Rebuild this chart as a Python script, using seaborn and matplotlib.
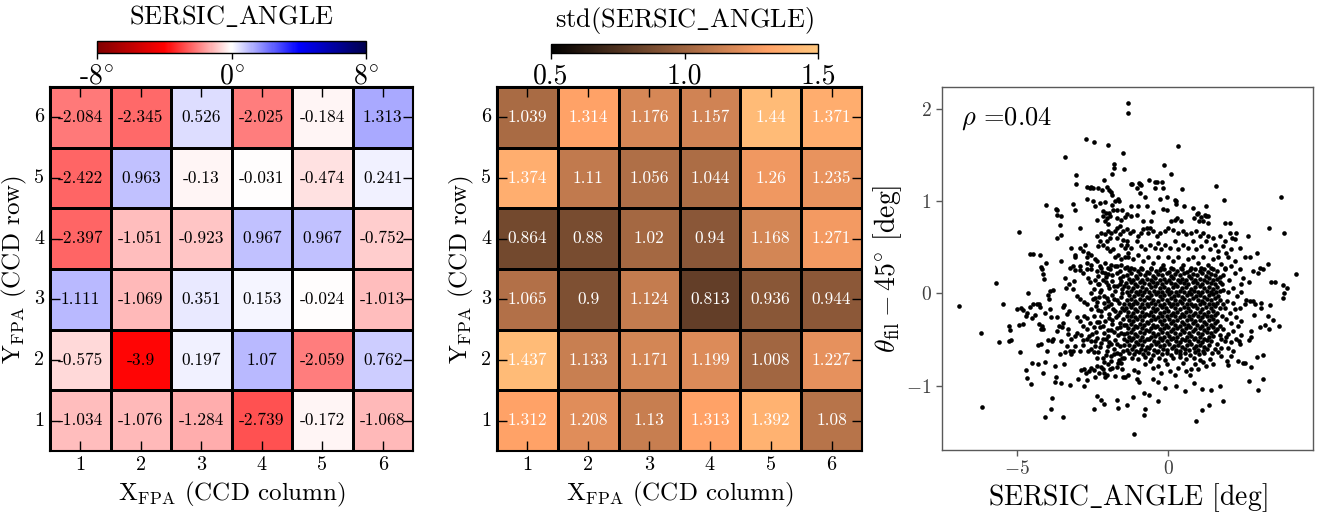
import matplotlib
matplotlib.use("Agg")
import matplotlib.pyplot as plt
from matplotlib.ticker import MultipleLocator
import pandas as pd
import seaborn as sns

# ---------------------------------------------------------------- data
ccd_cols = [1, 2, 3, 4, 5, 6]
ccd_rows = [1, 2, 3, 4, 5, 6]

# mean SERSIC_ANGLE per CCD (deg), rows listed from CCD row 1 up to row 6
mean_angle = [
    [-1.034, -1.076, -1.284, -2.739, -0.172, -1.068],
    [-0.575, -3.9, 0.197, 1.07, -2.059, 0.762],
    [1.111, -1.069, 0.351, 0.153, -0.024, -1.013],
    [-2.397, -1.051, -0.923, 0.967, 0.967, -0.752],
    [-2.422, 0.963, -0.13, -0.031, -0.474, 0.241],
    [-2.084, -2.345, 0.526, -2.025, -0.184, 1.313],
]

# scatter of SERSIC_ANGLE per CCD (deg)
std_angle = [
    [1.312, 1.208, 1.13, 1.313, 1.392, 1.08],
    [1.437, 1.133, 1.171, 1.199, 1.008, 1.227],
    [1.065, 0.9, 1.124, 0.813, 0.936, 0.944],
    [0.864, 0.88, 1.02, 0.94, 1.168, 1.271],
    [1.374, 1.11, 1.056, 1.044, 1.26, 1.235],
    [1.039, 1.314, 1.176, 1.157, 1.44, 1.371],
]

mean_ticks = [-8, 0, 8]
mean_ticklabels = ["-8$^{\\circ}$", "0$^{\\circ}$", "8$^{\\circ}$"]
std_ticks = [0.5, 1.0, 1.5]
std_ticklabels = ["0.5", "1.0", "1.5"]
rho_value = 0.04

# (SERSIC_ANGLE, theta_fil - 45) pairs, in degrees
upper_pts = [
    (-1.32, 2.06), (-1.32, 1.96), (-2.71, 1.67), (-2.45, 1.64), (-1.98, 1.61), (0.33, 1.60),
    (-3.41, 1.48), (-1.48, 1.52), (-1.78, 1.40), (-1.78, 1.36), (-1.46, 1.35), (-0.14, 1.39),
    (0.09, 1.30), (-3.05, 1.28), (-3.05, 1.19), (-1.85, 1.29), (-2.11, 1.23), (-0.63, 1.23),
    (-1.19, 1.19), (-0.93, 1.19), (-1.04, 1.14), (-0.35, 1.21), (-0.16, 1.14), (0.45, 1.13),
    (1.58, 1.16), (-2.69, 1.15), (-2.55, 1.15), (-2.31, 1.14), (-2.03, 1.15), (-1.95, 1.12),
    (-0.77, 1.05), (-0.03, 1.05), (3.74, 1.05), (1.84, 1.01), (-4.04, 0.96), (-3.13, 0.97),
    (-2.67, 1.02), (-2.47, 1.00), (-2.25, 0.98), (-1.76, 1.00), (-1.62, 1.00), (-0.99, 0.95),
    (-0.71, 0.95), (0.25, 1.00), (0.27, 0.97), (0.52, 0.95), (0.82, 0.93), (1.26, 0.95),
    (-3.70, 0.92), (-3.68, 0.90), (-3.52, 0.84), (-0.49, 0.88), (0.99, 0.87), (1.21, 0.85),
    (1.32, 0.84), (1.32, 0.76), (1.87, 0.76), (2.03, 0.76), (3.35, 0.71), (3.82, 0.66),
    (-3.57, 0.74), (-3.52, 0.63), (-3.68, 0.60), (-4.92, 0.67), (-2.91, 0.71), (2.25, 0.66),
    (2.64, 0.62), (2.36, 0.49), (2.53, 0.40), (2.69, 0.40), (2.93, 0.44), (3.30, 0.32),
    (-2.58, 1.14), (-2.49, 1.14), (-2.18, 1.12), (-1.87, 1.10), (-1.84, 1.07), (-3.08, 0.91),
    (-3.66, 0.85), (-2.42, 0.95), (-2.07, 0.99), (-1.65, 1.02), (-1.84, 0.96), (-2.16, 0.89),
    (-2.05, 0.87), (-1.95, 0.87), (-1.81, 0.90), (-1.70, 0.91), (-1.51, 0.91), (-2.36, 0.80),
    (-2.14, 0.84), (-2.03, 0.82), (-1.92, 0.84), (-2.09, 0.78), (-1.98, 0.75), (-1.70, 0.82),
    (-1.54, 0.80), (-1.43, 0.83), (-1.70, 0.71), (-1.59, 0.73), (-1.48, 0.68), (-1.37, 0.70),
    (-4.56, 0.43), (-4.45, 0.43), (-4.23, 0.42), (-4.04, 0.33), (-4.20, 0.29), (-3.52, 0.35),
    (-3.19, 0.49), (-3.08, 0.42), (-3.08, 0.39), (-2.91, 0.49), (-2.75, 0.53), (-2.80, 0.46),
    (-2.64, 0.44), (-2.69, 0.39), (-2.53, 0.42), (-2.42, 0.37), (-2.31, 0.51), (-2.14, 0.53),
    (-2.03, 0.57), (-1.92, 0.60), (-2.20, 0.66), (-2.09, 0.64), (-1.98, 0.68), (-1.87, 0.66),
    (-1.76, 0.68), (-2.36, 0.62), (-2.25, 0.57), (-2.03, 0.49), (-1.92, 0.46), (-1.81, 0.48),
    (-1.59, 0.64), (-1.48, 0.58), (-1.37, 0.57), (-1.54, 0.53), (-1.43, 0.49), (-1.32, 0.44),
    (-1.70, 0.60), (-1.65, 0.42), (-1.76, 0.39), (-1.54, 0.37), (-1.43, 0.40), (-2.91, 0.30),
    (-2.69, 0.33), (-2.53, 0.31), (-2.36, 0.35), (-2.25, 0.30), (-2.09, 0.33), (-1.98, 0.28),
    (-1.87, 0.31), (-1.70, 0.30), (-1.54, 0.31), (-1.37, 0.29), (-3.24, 0.28), (-3.13, 0.30),
    (-1.21, 1.19), (-0.97, 1.20), (-0.90, 1.18), (-0.44, 1.21), (-0.42, 1.14), (-0.20, 1.21),
    (-0.93, 1.09), (-0.27, 1.02), (0.24, 1.01), (-1.21, 0.95), (-0.16, 0.92), (-0.02, 0.90),
    (-1.37, 0.86), (-1.21, 0.84), (-1.04, 0.85), (-0.82, 0.78), (-0.55, 0.79), (-0.82, 0.70),
    (-0.60, 0.71), (0.11, 0.78), (0.24, 0.80), (0.31, 0.82), (0.44, 0.79), (0.86, 0.82),
    (0.97, 0.86), (1.01, 0.78), (1.08, 0.83), (1.15, 0.78), (1.26, 0.84), (-1.26, 0.66),
    (-1.15, 0.68), (-0.99, 0.62), (-0.88, 0.65), (-0.71, 0.71), (-0.66, 0.66), (-0.49, 0.68),
    (-0.38, 0.62), (-0.27, 0.66), (-0.11, 0.68), (0.00, 0.71), (0.16, 0.69), (0.33, 0.66),
    (0.49, 0.68), (0.60, 0.64), (0.77, 0.66), (0.93, 0.68), (1.04, 0.62), (1.15, 0.66),
    (1.32, 0.62), (1.48, 0.60), (1.70, 0.62), (1.87, 0.57), (2.03, 0.65), (2.11, 0.60),
    (2.20, 0.59), (-1.37, 0.53), (-1.21, 0.49), (-1.04, 0.57), (-0.88, 0.51), (-0.77, 0.48),
    (-0.60, 0.53), (-0.44, 0.49), (-0.33, 0.55), (-0.22, 0.48), (-0.11, 0.53), (0.05, 0.49),
    (0.22, 0.57), (0.33, 0.48), (0.49, 0.53), (0.66, 0.49), (0.82, 0.57), (0.93, 0.48),
    (1.10, 0.51), (1.26, 0.57), (1.37, 0.48), (1.54, 0.53), (1.65, 0.46), (1.81, 0.51),
    (1.92, 0.44), (2.09, 0.48), (-1.32, 0.40), (-1.15, 0.37), (-0.99, 0.42), (-0.82, 0.35),
    (-0.66, 0.40), (-0.49, 0.33), (-0.33, 0.39), (-0.16, 0.31), (0.00, 0.40), (0.16, 0.35),
    (0.33, 0.39), (0.49, 0.31), (0.66, 0.37), (0.82, 0.40), (0.99, 0.33), (1.15, 0.39),
    (1.32, 0.31), (1.48, 0.37), (1.65, 0.40), (1.76, 0.32), (1.98, 0.39), (2.20, 0.35),
    (-1.21, 0.28), (-0.88, 0.28), (-0.55, 0.28), (-0.22, 0.28), (0.11, 0.28), (0.44, 0.28),
    (0.77, 0.28), (1.10, 0.28), (1.43, 0.28), (1.87, 0.28),
]

lower_left_pts = [
    (-5.68, 0.11), (-6.91, -0.14), (-5.44, -0.11), (-4.63, 0.00), (-6.19, -0.43), (-5.60, -0.53),
    (-5.25, -0.52), (-5.19, -0.51), (-5.23, -0.40), (-5.25, -0.35), (-4.89, -0.64), (-5.00, -0.17),
    (-4.86, -0.16), (-4.80, -0.18), (-4.93, -0.34), (-4.78, -0.33), (-4.69, -0.25), (-4.65, -0.21),
    (-4.56, -0.15), (-4.47, -0.11), (-4.34, -0.11), (-4.25, -0.11), (-4.23, -0.15), (-4.51, -0.27),
    (-4.40, -0.23), (-4.18, 0.27), (-4.10, 0.16), (-4.12, 0.21), (-3.93, -0.06), (-3.96, -0.02),
    (-3.90, 0.03), (-3.79, 0.04), (-4.18, -0.35), (-4.21, -0.39), (-4.25, -0.33), (-4.12, -0.39),
    (-3.90, -0.17), (-3.87, -0.26), (-4.07, -0.21), (-4.29, -0.56), (-4.21, -0.55), (-3.96, -0.51),
    (-3.85, -0.52), (-3.79, -0.50), (-4.01, -0.62), (-4.49, -0.76), (-4.69, -0.83), (-4.65, -0.92),
    (-4.54, -0.98), (-4.29, -0.77), (-4.12, -0.86), (-4.05, -0.74), (-3.85, -1.14), (-3.88, -1.25),
    (-4.07, -1.34), (-6.14, -1.23), (-3.46, -1.34), (-3.74, -0.79), (-3.73, -0.96), (-3.70, -0.91),
    (-3.54, -0.97), (-3.44, -0.77), (-3.24, -0.99), (-3.66, -0.41), (-3.59, -0.35), (-3.55, -0.52),
    (-3.49, -0.37), (-3.57, -0.66), (-3.40, -0.64), (-3.35, -0.57), (-3.24, -0.63), (-3.19, -0.66),
    (-3.13, -0.62), (-3.30, -0.44), (-3.21, -0.49), (-3.08, -0.46), (-3.48, -0.15), (-3.44, -0.13),
    (-3.35, -0.22), (-3.26, -0.19), (-3.41, 0.17), (-3.37, 0.06), (-3.26, 0.10), (-3.15, 0.05),
    (-3.11, 0.13), (-3.68, -0.26), (-3.46, -0.32), (-3.30, -0.39), (-3.02, -0.03), (-2.91, -0.06),
    (-2.78, -0.09), (-2.69, -0.12), (-3.08, 0.25), (-2.91, 0.25), (-2.80, 0.22), (-2.64, 0.17),
    (-2.69, 0.26), (-3.02, -0.26), (-2.91, -0.30), (-2.78, -0.25), (-2.69, -0.27), (-2.80, -0.35),
    (-2.69, -0.39), (-3.02, -0.43), (-2.89, -0.45), (-2.80, -0.51), (-2.69, -0.50), (-2.62, -0.46),
    (-2.53, -0.52), (-3.08, -0.57), (-2.91, -0.62), (-2.80, -0.56), (-2.64, -0.62), (-2.53, -0.60),
    (-2.42, -0.57), (-2.45, -0.64), (-2.88, -0.83), (-2.77, -0.82), (-2.71, -0.86), (-2.60, -0.84),
    (-2.53, -0.81), (-2.45, -0.83), (-2.36, -0.79), (-2.27, -0.86), (-2.16, -0.82), (-2.11, -0.86),
    (-2.97, -0.93), (-2.69, -0.94), (-2.42, -0.91), (-2.09, -0.91), (-2.78, -1.00), (-2.36, -1.11),
    (-2.23, -1.16), (-2.10, -1.20), (-1.70, -1.16), (-1.65, -1.24), (-2.44, -1.25),
    (-2.53, 0.27), (-2.36, 0.24), (-2.20, 0.28), (-2.09, 0.22), (-1.92, 0.26), (-1.76, 0.30),
    (-1.59, 0.24), (-1.43, 0.28), (-2.58, 0.12), (-2.42, 0.15), (-2.27, 0.10), (-2.14, 0.14),
    (-1.98, 0.09), (-1.84, 0.13), (-1.70, 0.08), (-1.54, 0.13), (-2.56, 0.00), (-2.42, -0.05),
    (-2.25, 0.01), (-2.12, -0.03), (-1.98, -0.08), (-1.84, -0.02), (-1.68, -0.07), (-1.51, 0.00),
    (-2.53, -0.17), (-2.38, -0.14), (-2.23, -0.19), (-2.09, -0.16), (-1.95, -0.22), (-1.81, -0.17),
    (-1.65, -0.23), (-1.51, -0.16), (-2.58, -0.32), (-2.45, -0.37), (-2.27, -0.31), (-2.14, -0.35),
    (-1.98, -0.40), (-1.84, -0.33), (-1.70, -0.38), (-1.54, -0.43), (-2.36, -0.48), (-2.20, -0.54),
    (-2.05, -0.50), (-1.90, -0.55), (-1.76, -0.51), (-1.59, -0.57), (-2.31, -0.64), (-2.16, -0.70),
    (-2.01, -0.63), (-1.87, -0.68), (-1.70, -0.65), (-1.51, -0.70), (-1.98, -0.77), (-1.84, -0.81),
    (-1.65, -0.76), (-1.51, -0.82), (-2.03, -0.88), (-1.76, -0.90), (-1.48, -0.91),
    (-2.30, 0.19), (-2.05, 0.18), (-1.85, 0.20), (-1.60, 0.17), (-2.45, 0.05), (-2.20, 0.04),
    (-1.95, 0.06), (-1.75, 0.03), (-1.52, 0.05), (-2.35, -0.09), (-2.10, -0.10), (-1.88, -0.12),
    (-1.62, -0.10), (-1.47, -0.12), (-2.45, -0.25), (-2.20, -0.24), (-1.95, -0.27), (-1.72, -0.26),
    (-1.48, -0.28), (-2.38, -0.42), (-2.12, -0.43), (-1.90, -0.40), (-1.65, -0.45), (-1.47, -0.44),
    (-2.25, -0.58), (-2.00, -0.57), (-1.78, -0.60), (-1.50, -0.62), (-2.10, -0.74), (-1.88, -0.73),
    (-1.62, -0.72),
    (-2.18, 0.23), (-1.98, 0.21), (-1.68, 0.22), (-1.50, 0.19), (-2.32, 0.10), (-2.05, 0.12),
    (-1.80, 0.08), (-1.60, 0.10), (-1.45, 0.08), (-2.48, -0.06), (-2.28, -0.04), (-2.02, -0.05),
    (-1.78, -0.06), (-1.55, -0.04), (-2.30, -0.18), (-2.00, -0.14), (-1.75, -0.19), (-1.58, -0.20),
    (-1.44, -0.18), (-2.35, -0.31), (-2.08, -0.30), (-1.85, -0.29), (-1.60, -0.32), (-1.46, -0.34),
    (-2.50, -0.44), (-2.25, -0.36), (-2.00, -0.46), (-1.78, -0.42), (-1.58, -0.37), (-1.45, -0.49),
    (-2.40, -0.52), (-2.15, -0.50), (-1.95, -0.53), (-1.68, -0.55), (-1.45, -0.56), (-2.35, -0.70),
    (-2.05, -0.67), (-1.80, -0.66), (-1.58, -0.66), (-1.44, -0.70), (-2.20, -0.80), (-1.92, -0.82),
    (-1.70, -0.80), (-1.55, -0.76),
]

lower_right_pts = [
    (4.23, 0.21), (3.41, 0.12), (3.52, 0.12), (3.79, 0.09), (3.92, 0.06), (3.82, 0.00),
    (3.80, -0.05), (3.68, -0.35), (3.46, -0.29), (3.33, -0.39), (3.19, -0.34), (3.30, -0.25),
    (3.37, -0.13), (3.08, -0.16), (3.08, -0.10), (2.86, -0.12), (2.84, -0.23), (3.02, -0.37),
    (2.73, -0.41), (2.73, -0.47), (2.66, -0.51), (2.42, -0.45), (2.36, -0.55), (2.33, -0.52),
    (3.12, -0.67), (2.95, -0.69), (2.73, -0.80), (2.53, -0.75), (2.47, -0.76), (2.31, -0.73),
    (3.13, -0.93), (2.67, -0.95), (2.98, -1.05), (1.96, -0.73), (1.98, -0.78), (1.73, -1.00),
    (1.41, -1.05), (1.12, -1.04), (1.81, -1.17), (1.36, -1.21), (1.11, -1.27), (0.92, -1.38),
    (0.57, -1.06), (0.25, -1.01), (-0.09, -1.03), (-0.33, -1.17), (-0.75, -1.25), (-0.81, -1.32),
    (-1.14, -1.52), (-1.36, -1.21), (-0.80, -1.08), (-0.64, -1.10), (-0.97, -0.96), (-1.15, -1.12),
    (-1.43, -0.91), (-1.01, -0.93), (-0.49, -0.93), (-0.33, -0.96), (0.86, -0.97),
    (-1.32, -0.88), (-1.12, -0.83), (-0.99, -0.85), (-0.77, -0.77), (-0.60, -0.73), (-0.49, -0.81),
    (-0.33, -0.79), (-0.22, -0.86), (-0.05, -0.77), (0.05, -0.84), (0.22, -0.88), (0.33, -0.81),
    (0.49, -0.75), (0.60, -0.84), (0.71, -0.88), (0.77, -0.82), (0.88, -0.77), (0.99, -0.82),
    (1.15, -0.74), (1.26, -0.79), (1.37, -0.71), (1.48, -0.77), (1.76, -0.68), (2.09, -0.68),
    (1.87, 0.26), (2.07, 0.30), (2.20, 0.22), (2.36, 0.26), (2.47, 0.17), (2.42, 0.10),
    (2.66, 0.12), (2.80, 0.24), (2.97, 0.22), (3.02, 0.28), (3.13, 0.27),
    (1.81, 0.04), (1.98, 0.01), (2.14, 0.06), (2.29, -0.03), (2.42, 0.02), (2.58, -0.07),
    (2.69, -0.08), (2.80, -0.08), (2.53, -0.12), (2.36, -0.16), (1.87, -0.16), (2.03, -0.21),
    (2.20, -0.17), (1.92, -0.28), (2.09, -0.32), (2.25, -0.26), (2.40, -0.30), (1.81, -0.39),
    (1.98, -0.44), (2.14, -0.41), (2.31, -0.35), (1.87, -0.52), (2.07, -0.53), (2.25, -0.50),
    (1.98, -0.59), (2.14, -0.63), (1.76, -0.59), (1.65, -0.64),
    (1.80, 0.20), (2.00, 0.15), (1.78, 0.10), (1.95, -0.08), (2.15, -0.10), (1.80, -0.12),
    (1.78, -0.25), (1.72, -0.35), (1.90, -0.47), (1.75, -0.50), (1.70, -0.45), (1.55, -0.60),
    (1.45, -0.65), (1.60, -0.55),
]

core_pts = [
    (-1.28, 0.25), (-1.12, 0.27), (-0.98, 0.24), (-0.85, 0.26), (-0.70, 0.23), (-0.55, 0.27),
    (-0.41, 0.24), (-0.27, 0.25), (-0.12, 0.27), (0.03, 0.23), (0.17, 0.26), (0.31, 0.24),
    (0.46, 0.27), (0.61, 0.23), (0.74, 0.25), (0.90, 0.27), (1.04, 0.24), (1.19, 0.26),
    (1.33, 0.23), (1.49, 0.27), (1.62, 0.24),
    (-1.36, 0.20), (-1.22, 0.22), (-1.07, 0.19), (-0.93, 0.21), (-0.77, 0.20), (-0.63, 0.22),
    (-0.49, 0.19), (-0.34, 0.21), (-0.19, 0.20), (-0.05, 0.22), (0.10, 0.19), (0.24, 0.21),
    (0.39, 0.20), (0.53, 0.22), (0.68, 0.19), (0.83, 0.21), (0.97, 0.20), (1.12, 0.22),
    (1.26, 0.19), (1.41, 0.21), (1.56, 0.20), (1.70, 0.18),
    (-1.30, 0.16), (-1.15, 0.15), (-1.01, 0.17), (-0.85, 0.15), (-0.71, 0.16), (-0.56, 0.14),
    (-0.42, 0.17), (-0.27, 0.15), (-0.12, 0.16), (0.02, 0.14), (0.17, 0.17), (0.32, 0.15),
    (0.46, 0.16), (0.60, 0.14), (0.76, 0.17), (0.90, 0.15), (1.05, 0.16), (1.19, 0.14),
    (1.34, 0.17), (1.48, 0.15), (1.63, 0.16),
    (-1.38, 0.11), (-1.24, 0.12), (-1.08, 0.10), (-0.94, 0.12), (-0.79, 0.11), (-0.64, 0.10),
    (-0.49, 0.12), (-0.35, 0.11), (-0.20, 0.10), (-0.06, 0.12), (0.09, 0.11), (0.24, 0.10),
    (0.39, 0.12), (0.53, 0.11), (0.67, 0.10), (0.82, 0.12), (0.97, 0.11), (1.12, 0.10),
    (1.27, 0.12), (1.41, 0.11), (1.56, 0.10), (1.71, 0.12),
    (-1.31, 0.07), (-1.16, 0.06), (-1.02, 0.08), (-0.87, 0.07), (-0.72, 0.05), (-0.57, 0.07),
    (-0.42, 0.08), (-0.28, 0.06), (-0.13, 0.07), (0.01, 0.05), (0.16, 0.07), (0.31, 0.08),
    (0.45, 0.06), (0.60, 0.07), (0.75, 0.05), (0.89, 0.07), (1.04, 0.08), (1.19, 0.06),
    (1.34, 0.07), (1.48, 0.05), (1.63, 0.07),
    (-1.36, 0.02), (-1.21, 0.03), (-1.07, 0.01), (-0.92, 0.03), (-0.78, 0.02), (-0.63, 0.01),
    (-0.48, 0.03), (-0.33, 0.02), (-0.19, 0.01), (-0.04, 0.03), (0.11, 0.02), (0.25, 0.01),
    (0.40, 0.03), (0.54, 0.02), (0.69, 0.01), (0.84, 0.03), (0.98, 0.02), (1.13, 0.01),
    (1.28, 0.03), (1.42, 0.02), (1.57, 0.01), (1.72, 0.03),
    (-1.29, -0.02), (-1.14, -0.03), (-1.00, -0.01), (-0.85, -0.02), (-0.70, -0.04), (-0.55, -0.02),
    (-0.41, -0.01), (-0.26, -0.03), (-0.12, -0.02), (0.03, -0.01), (0.18, -0.03), (0.32, -0.02),
    (0.47, -0.04), (0.62, -0.02), (0.76, -0.01), (0.91, -0.03), (1.05, -0.02), (1.20, -0.04),
    (1.35, -0.02), (1.50, -0.01), (1.64, -0.03),
    (-1.37, -0.07), (-1.22, -0.06), (-1.08, -0.08), (-0.93, -0.06), (-0.78, -0.07), (-0.64, -0.05),
    (-0.49, -0.07), (-0.34, -0.08), (-0.20, -0.06), (-0.05, -0.07), (0.10, -0.05), (0.24, -0.07),
    (0.39, -0.08), (0.54, -0.06), (0.68, -0.07), (0.83, -0.05), (0.98, -0.07), (1.12, -0.08),
    (1.27, -0.06), (1.42, -0.07), (1.56, -0.05), (1.71, -0.07),
    (-1.30, -0.11), (-1.15, -0.12), (-1.01, -0.10), (-0.86, -0.11), (-0.71, -0.12), (-0.57, -0.10),
    (-0.42, -0.11), (-0.27, -0.13), (-0.13, -0.11), (0.02, -0.10), (0.17, -0.12), (0.31, -0.11),
    (0.46, -0.10), (0.61, -0.12), (0.75, -0.11), (0.90, -0.13), (1.05, -0.11), (1.19, -0.10),
    (1.34, -0.12), (1.49, -0.11), (1.63, -0.10),
    (-1.38, -0.16), (-1.23, -0.15), (-1.09, -0.17), (-0.94, -0.15), (-0.79, -0.16), (-0.65, -0.14),
    (-0.50, -0.16), (-0.35, -0.17), (-0.21, -0.15), (-0.06, -0.16), (0.09, -0.14), (0.23, -0.16),
    (0.38, -0.17), (0.53, -0.15), (0.67, -0.16), (0.82, -0.14), (0.97, -0.16), (1.11, -0.17),
    (1.26, -0.15), (1.41, -0.16), (1.55, -0.14), (1.70, -0.16),
    (-1.31, -0.20), (-1.16, -0.21), (-1.02, -0.19), (-0.87, -0.20), (-0.72, -0.22), (-0.58, -0.20),
    (-0.43, -0.19), (-0.28, -0.21), (-0.14, -0.20), (0.01, -0.19), (0.16, -0.21), (0.30, -0.20),
    (0.45, -0.22), (0.60, -0.20), (0.74, -0.19), (0.89, -0.21), (1.04, -0.20), (1.18, -0.22),
    (1.33, -0.20), (1.48, -0.19), (1.62, -0.21),
    (-1.37, -0.25), (-1.22, -0.24), (-1.08, -0.26), (-0.93, -0.24), (-0.78, -0.25), (-0.64, -0.23),
    (-0.49, -0.25), (-0.34, -0.26), (-0.20, -0.24), (-0.05, -0.25), (0.10, -0.23), (0.24, -0.25),
    (0.39, -0.26), (0.54, -0.24), (0.68, -0.25), (0.83, -0.23), (0.98, -0.25), (1.12, -0.26),
    (1.27, -0.24), (1.42, -0.25), (1.56, -0.23),
    (-1.30, -0.29), (-1.15, -0.30), (-1.01, -0.28), (-0.86, -0.29), (-0.71, -0.31), (-0.57, -0.29),
    (-0.42, -0.28), (-0.27, -0.30), (-0.13, -0.29), (0.02, -0.28), (0.17, -0.30), (0.31, -0.29),
    (0.46, -0.31), (0.61, -0.29), (0.75, -0.28), (0.90, -0.30), (1.05, -0.29), (1.19, -0.31),
    (1.34, -0.29), (1.49, -0.28), (1.63, -0.30),
    (-1.38, -0.34), (-1.23, -0.33), (-1.09, -0.35), (-0.94, -0.33), (-0.79, -0.34), (-0.65, -0.32),
    (-0.50, -0.34), (-0.35, -0.35), (-0.21, -0.33), (-0.06, -0.34), (0.09, -0.32), (0.23, -0.34),
    (0.38, -0.35), (0.53, -0.33), (0.67, -0.34), (0.82, -0.32), (0.97, -0.34), (1.11, -0.35),
    (1.26, -0.33), (1.41, -0.34), (1.55, -0.32),
    (-1.31, -0.38), (-1.16, -0.39), (-1.02, -0.37), (-0.87, -0.38), (-0.72, -0.40), (-0.58, -0.38),
    (-0.43, -0.37), (-0.28, -0.39), (-0.14, -0.38), (0.01, -0.37), (0.16, -0.39), (0.30, -0.38),
    (0.45, -0.40), (0.60, -0.38), (0.74, -0.37), (0.89, -0.39), (1.04, -0.38), (1.18, -0.40),
    (1.33, -0.38), (1.48, -0.37), (1.62, -0.39),
    (-1.37, -0.43), (-1.22, -0.42), (-1.08, -0.44), (-0.93, -0.42), (-0.78, -0.43), (-0.64, -0.41),
    (-0.49, -0.43), (-0.34, -0.44), (-0.20, -0.42), (-0.05, -0.43), (0.10, -0.41), (0.24, -0.43),
    (0.39, -0.44), (0.54, -0.42), (0.68, -0.43), (0.83, -0.41), (0.98, -0.43), (1.12, -0.44),
    (1.27, -0.42), (1.42, -0.43), (1.56, -0.41),
    (-1.30, -0.47), (-1.15, -0.48), (-1.01, -0.46), (-0.86, -0.47), (-0.71, -0.49), (-0.57, -0.47),
    (-0.42, -0.46), (-0.27, -0.48), (-0.13, -0.47), (0.02, -0.46), (0.17, -0.48), (0.31, -0.47),
    (0.46, -0.49), (0.61, -0.47), (0.75, -0.46), (0.90, -0.48), (1.05, -0.47), (1.19, -0.49),
    (1.34, -0.47), (1.49, -0.46),
    (-1.36, -0.52), (-1.21, -0.51), (-1.07, -0.53), (-0.92, -0.51), (-0.78, -0.52), (-0.63, -0.50),
    (-0.48, -0.52), (-0.33, -0.53), (-0.19, -0.51), (-0.04, -0.52), (0.11, -0.50), (0.25, -0.52),
    (0.40, -0.53), (0.55, -0.51), (0.69, -0.52), (0.84, -0.50), (0.99, -0.52), (1.13, -0.53),
    (1.28, -0.51), (1.43, -0.52),
    (-1.29, -0.56), (-1.14, -0.57), (-1.00, -0.55), (-0.85, -0.56), (-0.70, -0.58), (-0.56, -0.56),
    (-0.41, -0.55), (-0.26, -0.57), (-0.12, -0.56), (0.03, -0.55), (0.18, -0.57), (0.32, -0.56),
    (0.47, -0.58), (0.62, -0.56), (0.76, -0.55), (0.91, -0.57), (1.06, -0.56), (1.20, -0.58),
    (1.35, -0.56),
    (-1.35, -0.61), (-1.20, -0.60), (-1.06, -0.62), (-0.91, -0.60), (-0.76, -0.61), (-0.62, -0.59),
    (-0.47, -0.61), (-0.32, -0.62), (-0.18, -0.60), (-0.03, -0.61), (0.12, -0.59), (0.26, -0.61),
    (0.41, -0.62), (0.56, -0.60), (0.70, -0.61), (0.85, -0.59), (1.00, -0.61), (1.14, -0.62),
    (1.29, -0.60),
    (-1.28, -0.65), (-1.12, -0.66), (-0.97, -0.64), (-0.82, -0.66), (-0.66, -0.65), (-0.51, -0.67),
    (-0.36, -0.64), (-0.21, -0.66), (-0.05, -0.65), (0.10, -0.67), (0.26, -0.64), (0.41, -0.66),
    (0.57, -0.65), (0.72, -0.67), (0.88, -0.64), (1.03, -0.66), (1.19, -0.65),
    (-1.20, -0.70), (-0.98, -0.71), (-0.75, -0.69), (-0.55, -0.71), (-0.30, -0.70), (-0.10, -0.72),
    (0.15, -0.70), (0.38, -0.69), (0.60, -0.71), (0.85, -0.70), (1.05, -0.72),
]

# ---------------------------------------------------------------- style
sns.set_theme(style="ticks", rc={
    "axes.edgecolor": "black",
    "text.color": "black",
    "axes.labelcolor": "black",
    "xtick.color": "black",
    "ytick.color": "black",
})
plt.rcParams["font.family"] = ["cmr10", "DejaVu Serif"]
plt.rcParams["mathtext.fontset"] = "cm"
plt.rcParams["axes.formatter.use_mathtext"] = True
plt.rcParams["axes.unicode_minus"] = True

W, H = 1330, 517
fig = plt.figure(figsize=(W / 100, H / 100), dpi=100)


def frac(x0, y0, x1, y1):
    """Convert a pixel box (left, top, right, bottom) to figure fractions."""
    return [x0 / W, 1 - y1 / H, (x1 - x0) / W, (y1 - y0) / H]


ax_mean = fig.add_axes(frac(50, 87, 413, 451))
cax_mean = fig.add_axes(frac(97, 41, 366, 53))
ax_std = fig.add_axes(frac(497, 87, 862, 451))
cax_std = fig.add_axes(frac(551, 44, 818, 53))
ax_sc = fig.add_axes(frac(942, 87, 1313, 450))

SERSIC = r"SERSIC$\_$ANGLE"


def ccd_map(ax, cax, values, cmap, vmin, vmax, text_color, ticks, ticklabels, title):
    df = pd.DataFrame(values, index=ccd_rows, columns=ccd_cols).iloc[::-1]
    sns.heatmap(df, ax=ax, cbar_ax=cax, cmap=cmap, vmin=vmin, vmax=vmax,
                annot=True, fmt="g",
                annot_kws={"color": text_color, "fontsize": 12.5},
                linewidths=1.0, linecolor="black",
                cbar_kws={"orientation": "horizontal", "ticks": ticks})
    ax.set_axisbelow(False)
    for sp in ax.spines.values():
        sp.set_visible(True)
        sp.set_color("black")
        sp.set_linewidth(1.5)
    ax.set_xticklabels(df.columns, rotation=0, fontsize=14.5)
    ax.set_yticklabels(df.index, rotation=0, fontsize=14.5)
    ax.tick_params(direction="in", length=7, width=1, color="black",
                   top=True, right=True, bottom=True, left=True,
                   labeltop=False, labelright=False, pad=4)
    ax.set_xlabel(r"X$_{\rm FPA}$ (CCD column)", fontsize=18, labelpad=4)
    ax.set_ylabel(r"Y$_{\rm FPA}$ (CCD row)", fontsize=18, labelpad=4)

    cb = ax.collections[0].colorbar
    cb.set_ticks(ticks)
    cb.set_ticklabels(ticklabels)
    cb.outline.set_edgecolor("black")
    cb.outline.set_linewidth(1.0)
    cax.tick_params(bottom=True, top=False, direction="out", length=4, width=1,
                    labelsize=20, pad=3)
    cax.set_title(title, fontsize=19, pad=12)


ccd_map(ax_mean, cax_mean, mean_angle, "seismic_r", -8, 8, "black",
        mean_ticks, mean_ticklabels, SERSIC)
ccd_map(ax_std, cax_std, std_angle, "copper", 0.5, 1.5, "white",
        std_ticks, std_ticklabels, "std(" + SERSIC + ")")

# ---------------------------------------------------------------- scatter
all_pts = upper_pts + lower_left_pts + lower_right_pts + core_pts
sc_df = pd.DataFrame(all_pts, columns=["sersic_angle", "theta_dev"])
sns.scatterplot(data=sc_df, x="sersic_angle", y="theta_dev", ax=ax_sc,
                color="black", s=11, linewidth=0, legend=False)
ax_sc.xaxis.set_major_locator(MultipleLocator(5))
ax_sc.yaxis.set_major_locator(MultipleLocator(1))
for sp in ax_sc.spines.values():
    sp.set_visible(True)
    sp.set_color("0.35")
    sp.set_linewidth(1.0)
ax_sc.tick_params(direction="out", length=4, width=1, color="0.35",
                  labelcolor="0.25", labelsize=14)
ax_sc.set_xlabel(SERSIC + " [deg]", fontsize=20, labelpad=2)
ax_sc.set_ylabel(r"$\theta_{\rm fil} - 45^{\circ}$ [deg]", fontsize=20, labelpad=2)
ax_sc.text(0.05, 0.895, r"$\rho$ =" + f"{rho_value:.2f}", transform=ax_sc.transAxes,
           fontsize=19, ha="left", va="baseline")

fig.savefig("out.png", dpi=100)
